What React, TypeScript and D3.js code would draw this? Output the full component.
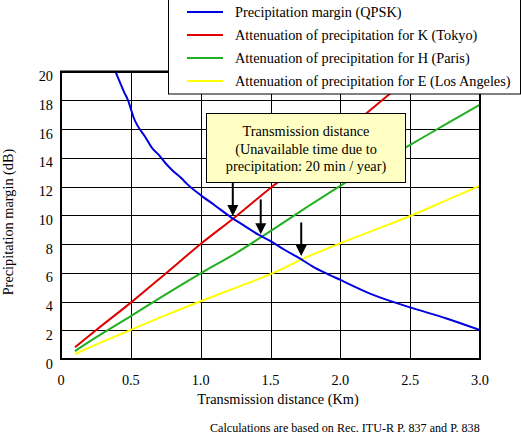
import { useEffect, useRef } from "react";
import * as d3 from "d3";

// distances (km) and dB values
const marginKm = [0.39, 0.42, 0.45, 0.48, 0.5, 0.52, 0.55, 0.6, 0.65, 0.7, 0.75, 0.8, 0.87, 0.9, 1.0, 1.1, 1.22, 1.3, 1.41, 1.51, 1.6, 1.7, 1.8, 1.9, 2.0, 2.24, 2.5, 2.76, 3.0];
const marginDb = [20, 19.3, 18.6, 18.0, 17.4, 16.8, 16.2, 15.5, 14.7, 14.2, 13.6, 13.1, 12.5, 12.2, 11.4, 10.7, 9.84, 9.35, 8.67, 8.15, 7.6, 7.05, 6.45, 5.95, 5.5, 4.44, 3.59, 2.82, 2.01];

const attKm = [0.1, 0.25, 0.5, 0.75, 1.0, 1.25, 1.5, 1.75, 2.0, 2.25, 2.5, 2.75, 3.0];
const tokyoDb = [0.82, 2.0, 3.92, 5.95, 8.0, 9.9, 11.9, 13.75, 15.6, 17.6, 19.6, 21.5, 23.4];
const parisDb = [0.55, 1.5, 2.98, 4.5, 5.96, 7.35, 8.9, 10.5, 12.05, 13.5, 14.9, 16.3, 17.7];
const laDb = [0.35, 1.0, 2.03, 3.05, 4.02, 4.95, 5.9, 7.05, 8.05, 9.0, 9.95, 11.0, 12.05];

const seriesNames = [
  "Precipitation margin (QPSK)",
  "Attenuation of precipitation for K (Tokyo)",
  "Attenuation of precipitation for H (Paris)",
  "Attenuation of precipitation for E (Los Angeles)",
];
const seriesColors = ["#0000e0", "#e00000", "#20b020", "#ffff00"];

const xTicks = [0, 0.5, 1.0, 1.5, 2.0, 2.5, 3.0];
const xTickLabels = ["0", "0.5", "1.0", "1.5", "2.0", "2.5", "3.0"];
const yTicks = [0, 2, 4, 6, 8, 10, 12, 14, 16, 18, 20];

// arrows: crossing distance, arrow top and tip (dB)
const arrowKm = [1.23, 1.43, 1.72];
const arrowTopDb = [12.3, 11.1, 9.5];
const arrowTipDb = [9.95, 8.68, 7.16];

const noteLines = ["Transmission distance", "(Unavailable time due to", "precipitation: 20 min / year)"];
const font = "'Liberation Serif', 'Times New Roman', serif";
const fs = 14.3;

export default function App() {
  const ref = useRef<SVGSVGElement>(null);

  useEffect(() => {
    const svg = d3.select(ref.current);
    svg.selectAll("*").remove();

    const x = d3.scaleLinear().domain([0, 3]).range([61, 480]);
    const y = d3.scaleLinear().domain([0, 20]).range([359, 71.5]);

    svg.append("defs").append("clipPath").attr("id", "plotclip")
      .append("rect")
      .attr("x", x(0)).attr("y", y(20))
      .attr("width", x(3) - x(0)).attr("height", y(0) - y(20));

    // grid
    const grid = svg.append("g").attr("stroke", "#000").attr("stroke-width", 1);
    xTicks.forEach((t) => {
      grid.append("line")
        .attr("x1", Math.round(x(t)) + 0.5).attr("x2", Math.round(x(t)) + 0.5)
        .attr("y1", y(0)).attr("y2", y(20));
    });
    yTicks.forEach((t) => {
      grid.append("line")
        .attr("x1", x(0)).attr("x2", x(3))
        .attr("y1", Math.round(y(t)) + 0.5).attr("y2", Math.round(y(t)) + 0.5);
    });

    // curves
    const line = d3.line<[number, number]>()
      .x((d) => x(d[0])).y((d) => y(d[1]))
      .curve(d3.curveMonotoneX);
    const series: [number, number][][] = [
      marginKm.map((k, i) => [k, marginDb[i]]),
      attKm.map((k, i) => [k, tokyoDb[i]]),
      attKm.map((k, i) => [k, parisDb[i]]),
      attKm.map((k, i) => [k, laDb[i]]),
    ];
    const curves = svg.append("g").attr("clip-path", "url(#plotclip)");
    [3, 2, 1, 0].forEach((i) => {
      curves.append("path")
        .attr("d", line(series[i]))
        .attr("fill", "none")
        .attr("stroke", seriesColors[i])
        .attr("stroke-width", 2);
    });

    // frame
    svg.append("rect")
      .attr("x", x(0)).attr("y", y(20))
      .attr("width", x(3) - x(0)).attr("height", y(0) - y(20))
      .attr("fill", "none").attr("stroke", "#000").attr("stroke-width", 2);

    // tick labels
    svg.append("g").selectAll("text").data(yTicks).join("text")
      .attr("x", 53).attr("y", (d) => y(d) + 9.5)
      .attr("text-anchor", "end")
      .attr("font-family", font).attr("font-size", fs)
      .text((d) => d);
    svg.append("g").selectAll("text").data(xTicks).join("text")
      .attr("x", (d) => x(d)).attr("y", 384.5)
      .attr("text-anchor", "middle")
      .attr("font-family", font).attr("font-size", fs)
      .text((_, i) => xTickLabels[i]);

    // axis titles
    svg.append("text")
      .attr("x", 278).attr("y", 404)
      .attr("text-anchor", "middle")
      .attr("font-family", font).attr("font-size", fs)
      .text("Transmission distance (Km)");
    svg.append("text")
      .attr("transform", "translate(13,222) rotate(-90)")
      .attr("text-anchor", "middle")
      .attr("font-family", font).attr("font-size", fs)
      .text("Precipitation margin (dB)");
    svg.append("text")
      .attr("x", 210).attr("y", 432)
      .attr("font-family", font).attr("font-size", 12.1)
      .text("Calculations are based on Rec. ITU-R P. 837 and P. 838");

    // note box
    svg.append("rect")
      .attr("x", 206.5).attr("y", 113.5).attr("width", 199).attr("height", 69)
      .attr("fill", "#ffffc4").attr("stroke", "#000").attr("stroke-width", 1);
    svg.append("g").selectAll("text").data(noteLines).join("text")
      .attr("x", 306).attr("y", (_, i) => 136 + i * 17.5)
      .attr("text-anchor", "middle")
      .attr("font-family", font).attr("font-size", fs)
      .text((d) => d);

    // arrows
    const arrows = svg.append("g");
    arrowKm.forEach((k, i) => {
      const ax = x(k);
      const tip = y(arrowTipDb[i]);
      arrows.append("line")
        .attr("x1", ax).attr("x2", ax)
        .attr("y1", y(arrowTopDb[i])).attr("y2", tip - 9)
        .attr("stroke", "#000").attr("stroke-width", 2);
      arrows.append("path")
        .attr("d", `M${ax - 5.5},${tip - 11}L${ax + 5.5},${tip - 11}L${ax},${tip}Z`)
        .attr("fill", "#000");
    });

    // legend
    const lg = svg.append("g");
    lg.append("rect")
      .attr("x", 168.5).attr("y", -1).attr("width", 352).attr("height", 95)
      .attr("fill", "#fff").attr("stroke", "#000").attr("stroke-width", 1);
    seriesNames.forEach((name, i) => {
      const cy = 12 + i * 23;
      lg.append("line")
        .attr("x1", 187).attr("x2", 223).attr("y1", cy).attr("y2", cy)
        .attr("stroke", seriesColors[i]).attr("stroke-width", 2);
      lg.append("text")
        .attr("x", 235).attr("y", cy + 4.5)
        .attr("font-family", font).attr("font-size", fs)
        .text(name);
    });
  }, []);

  return (
    <svg
      ref={ref}
      width={521}
      height={436}
      style={{ position: "absolute", left: 0, top: 0, background: "#fff" }}
    />
  );
}
